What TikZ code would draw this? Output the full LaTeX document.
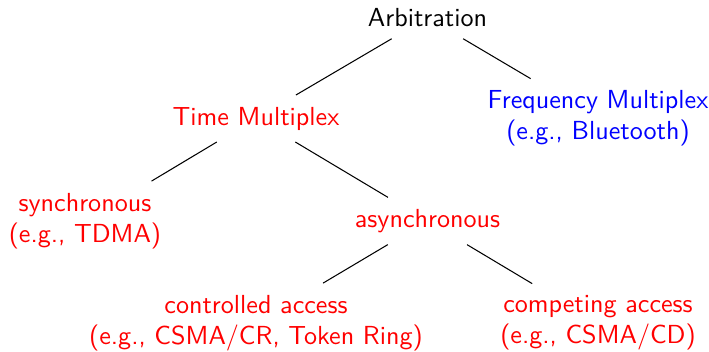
\documentclass[tikz,border=0pt]{standalone}
\usepackage{tikz}

\begin{document}
\begin{tikzpicture}[every node/.style={font=\sffamily, align=center},
  branch/.style={thin, shorten <=2pt, shorten >=2pt}]
\useasboundingbox (0,0) rectangle (9.544,4.725);

\node (arb) at (5.755,4.487) {Arbitration};
\node[red] (tdm) at (3.446,3.130) {Time Multiplex};
\node[blue] (fdm) at (8.050,3.130) {Frequency Multiplex\\(e.g., Bluetooth)};
\node[red] (sync) at (1.144,1.750) {synchronous\\(e.g., TDMA)};
\node[red] (async) at (5.755,1.750) {asynchronous};
\node[red] (ctrl) at (3.446,0.377) {controlled access\\(e.g., CSMA/CR, Token Ring)};
\node[red] (comp) at (8.050,0.377) {competing access\\(e.g., CSMA/CD)};

\draw[branch] (arb) -- (tdm);
\draw[branch] (arb) -- (fdm);
\draw[branch] (tdm) -- (sync);
\draw[branch] (tdm) -- (async);
\draw[branch] (async) -- (ctrl);
\draw[branch] (async) -- (comp);
\end{tikzpicture}
\end{document}
